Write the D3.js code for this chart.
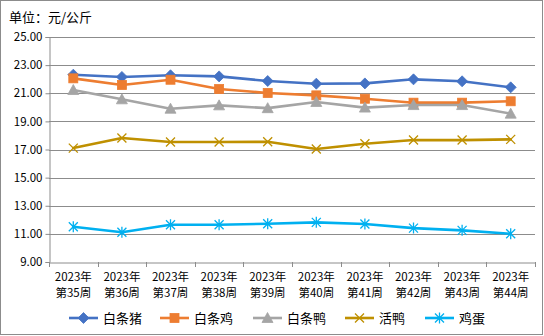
<!DOCTYPE html>
<html><head><meta charset="utf-8">
<script src="https://cdn.jsdelivr.net/npm/d3@7/dist/d3.min.js"></script>
<style>body{margin:0;background:#fff}svg{display:block}text{font-family:"Noto Sans CJK SC",sans-serif}</style>
</head><body><svg id="c" width="544" height="336"></svg>
<script>
const categories = ["2023年|第35周","2023年|第36周","2023年|第37周","2023年|第38周","2023年|第39周","2023年|第40周","2023年|第41周","2023年|第42周","2023年|第43周","2023年|第44周"];
const seriesNames = ["白条猪","白条鸡","白条鸭","活鸭","鸡蛋"];
const pork = [22.32,22.16,22.28,22.20,21.87,21.68,21.70,21.99,21.85,21.42];
const chicken = [22.06,21.59,21.96,21.30,21.02,20.85,20.61,20.33,20.33,20.43];
const duck = [21.23,20.57,19.90,20.14,19.94,20.38,19.98,20.16,20.16,19.55];
const liveDuck = [17.10,17.82,17.53,17.53,17.55,17.03,17.41,17.67,17.67,17.72];
const eggs = [11.51,11.11,11.65,11.65,11.72,11.82,11.70,11.41,11.25,11.01];
const yTicks = [9,11,13,15,17,19,21,23,25];

const colors = ["#4472C4","#ED7D31","#A5A5A5","#BF9000","#00B0F0"];
const markers = ["diamond","square","triangle","x","star"];
const data = [pork,chicken,duck,liveDuck,eggs];

const svg = d3.select("#c");
svg.append("rect").attr("x",0.5).attr("y",0.5).attr("width",542).attr("height",334).attr("fill","#fff").attr("stroke","#8c8c8c");

const L=49,R=535,T=37,B=262;
const x = d3.scaleBand().domain(categories).range([L,R]);
const y = d3.scaleLinear().domain([9,25]).range([B,T]);

svg.append("text").attr("x",9).attr("y",22).attr("font-size",13).text("单位：元/公斤");

// gridlines
svg.append("g").selectAll("line").data(yTicks.filter(d=>d>9)).join("line")
 .attr("x1",L).attr("x2",R).attr("y1",d=>Math.round(y(d))+0.5).attr("y2",d=>Math.round(y(d))+0.5)
 .attr("stroke","#8c8c8c").attr("stroke-width",1);

// y axis
const ya = svg.append("g").attr("transform",`translate(${L+0.5},0)`)
 .call(d3.axisLeft(y).tickValues(yTicks).tickFormat(d3.format(".2f")).tickSize(4).tickPadding(3));
ya.select(".domain").attr("stroke","#8c8c8c");
ya.selectAll(".tick line").attr("stroke","#8c8c8c");
ya.selectAll("text").attr("font-size",11.5).attr("font-family","'Liberation Mono',monospace").attr("fill","#000");

// x axis
const xa = svg.append("g").attr("transform",`translate(0,${B+0.5})`).call(d3.axisBottom(x).tickSize(0).tickFormat(""));
xa.select(".domain").attr("stroke","#8c8c8c");
const bounds = categories.map(c=>x(c)).concat([R]);
svg.append("g").selectAll("line").data(bounds).join("line")
 .attr("x1",d=>Math.round(d)+0.5).attr("x2",d=>Math.round(d)+0.5).attr("y1",B).attr("y2",B+5).attr("stroke","#8c8c8c");
const lbl = svg.append("g").selectAll("text").data(categories).join("text")
 .attr("text-anchor","middle").attr("font-size",11.5).attr("fill","#000")
 .attr("x",d=>x(d)+x.bandwidth()/2);
lbl.each(function(d){
  const parts=d.split("|");
  d3.select(this).append("tspan").attr("x",x(d)+x.bandwidth()/2).attr("y",281).text(parts[0]);
  d3.select(this).append("tspan").attr("x",x(d)+x.bandwidth()/2).attr("y",297).text(parts[1]);
});

function drawMarker(g,type,cx,cy,color){
  if(type==="diamond"){
    g.append("path").attr("d",`M${cx},${cy-5.5}L${cx+5.5},${cy}L${cx},${cy+5.5}L${cx-5.5},${cy}Z`).attr("fill",color).attr("stroke",color).attr("stroke-width",0.8);
  } else if(type==="square"){
    g.append("rect").attr("x",cx-4.5).attr("y",cy-4.5).attr("width",9).attr("height",9).attr("fill",color).attr("stroke",color).attr("stroke-width",0.8);
  } else if(type==="triangle"){
    g.append("path").attr("d",`M${cx},${cy-5.5}L${cx+5.5},${cy+4.5}L${cx-5.5},${cy+4.5}Z`).attr("fill",color).attr("stroke",color).attr("stroke-width",0.8);
  } else if(type==="x"){
    g.append("path").attr("d",`M${cx-4.5},${cy-4.5}L${cx+4.5},${cy+4.5}M${cx+4.5},${cy-4.5}L${cx-4.5},${cy+4.5}`).attr("stroke",color).attr("stroke-width",1.3);
  } else {
    g.append("path").attr("d",`M${cx-4.5},${cy-4.5}L${cx+4.5},${cy+4.5}M${cx+4.5},${cy-4.5}L${cx-4.5},${cy+4.5}M${cx},${cy-5.5}L${cx},${cy+5.5}`).attr("stroke",color).attr("stroke-width",1.3);
  }
}

const line = d3.line().x((d,i)=>x(categories[i])+x.bandwidth()/2).y(d=>y(d));
data.forEach((vals,si)=>{
  const g = svg.append("g");
  g.append("path").attr("d",line(vals)).attr("fill","none").attr("stroke",colors[si]).attr("stroke-width",2.6).attr("stroke-linejoin","round").attr("stroke-linecap","round");
  vals.forEach((v,i)=>drawMarker(g,markers[si],x(categories[i])+x.bandwidth()/2,y(v),colors[si]));
});

// legend
const legX = [69,160,253,345,425];
const lg = svg.append("g");
seriesNames.forEach((n,i)=>{
  const lx=legX[i], ly=318;
  lg.append("line").attr("x1",lx).attr("x2",lx+29).attr("y1",ly).attr("y2",ly).attr("stroke",colors[i]).attr("stroke-width",2.6);
  drawMarker(lg,markers[i],lx+14.5,ly,colors[i]);
  lg.append("text").attr("x",lx+34).attr("y",ly+4.5).attr("font-size",13).text(n);
});
</script></body></html>
